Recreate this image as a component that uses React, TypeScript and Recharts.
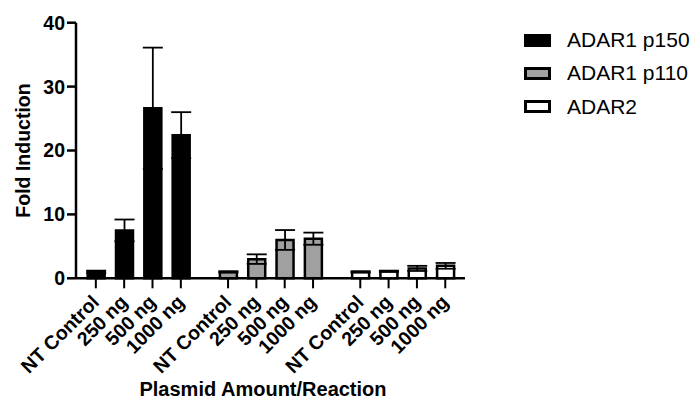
import { BarChart, Bar, XAxis, YAxis, ErrorBar, Cell, Label } from "recharts";

const groups = ["ADAR1 p150", "ADAR1 p110", "ADAR2"];
const groupColors = ["#000000", "#a0a0a0", "#ffffff"];
const amounts = ["NT Control", "250 ng", "500 ng", "1000 ng"];
const p150Values = [1.0, 7.5, 26.6, 22.4];
const p150Errors = [0.2, 1.7, 9.5, 3.6];
const p110Values = [1.0, 3.0, 6.0, 6.2];
const p110Errors = [0.1, 0.75, 1.55, 0.95];
const adar2Values = [1.0, 1.1, 1.55, 1.95];
const adar2Errors = [0.1, 0.1, 0.4, 0.45];
const yTicks = [0, 10, 20, 30, 40];

const FONT = '"Liberation Sans", Arial, sans-serif';
// spacing between groups, in bar slots
const GROUP_STEP = 14 / 3;

const values = [p150Values, p110Values, adar2Values];
const errors = [p150Errors, p110Errors, adar2Errors];

const data = groups.flatMap((g, gi) =>
  amounts.map((a, i) => ({
    pos: gi * GROUP_STEP + i,
    label: a,
    group: g,
    value: values[gi][i],
    err: errors[gi][i],
    color: groupColors[gi],
  }))
);

const AmountTick = (props: any) => {
  const { x, y, payload } = props;
  const row = data.find((d) => Math.abs(d.pos - payload.value) < 1e-6);
  const ax = x + 4.5;
  const ay = y + 13;
  return (
    <text
      x={ax}
      y={ay}
      transform={`rotate(-45, ${ax}, ${ay})`}
      textAnchor="end"
      fontFamily={FONT}
      fontWeight="bold"
      fontSize={19.5}
      fill="#000"
    >
      {row ? row.label : ""}
    </text>
  );
};

export default function App() {
  return (
    <div style={{ position: "absolute", left: 0, top: 0, width: 695, height: 406 }}>
      <BarChart
        width={695}
        height={406}
        data={data}
        margin={{ top: 22.7, right: 230, bottom: 0, left: 0 }}
      >
        <XAxis
          type="number"
          dataKey="pos"
          domain={[-0.7, 13.03]}
          ticks={data.map((d) => d.pos)}
          interval={0}
          height={127.7}
          tick={<AmountTick />}
          tickSize={10}
          axisLine={{ stroke: "#000", strokeWidth: 2.5 }}
          tickLine={{ stroke: "#000", strokeWidth: 2 }}
        >
          <Label
            content={() => (
              <text
                x={263}
                y={396}
                textAnchor="middle"
                fontFamily={FONT}
                fontWeight="bold"
                fontSize={20}
                fill="#000"
              >
                Plasmid Amount/Reaction
              </text>
            )}
          />
        </XAxis>
        <YAxis
          width={76}
          domain={[0, 40]}
          ticks={yTicks}
          interval={0}
          tickSize={9}
          tickMargin={2}
          axisLine={{ stroke: "#000", strokeWidth: 2.5 }}
          tickLine={{ stroke: "#000", strokeWidth: 2.5 }}
          tick={{ fill: "#000", fontFamily: FONT, fontWeight: "bold", fontSize: 19.5 }}
        >
          <Label
            content={() => (
              <text
                x={23}
                y={150.5}
                transform="rotate(-90, 23, 150.5)"
                textAnchor="middle"
                dominantBaseline="central"
                fontFamily={FONT}
                fontWeight="bold"
                fontSize={19.5}
                fill="#000"
              >
                Fold Induction
              </text>
            )}
          />
        </YAxis>
        <Bar
          dataKey="value"
          barSize={17}
          stroke="#000"
          strokeWidth={2.5}
          isAnimationActive={false}
        >
          {data.map((d, i) => (
            <Cell key={i} fill={d.color} />
          ))}
          <ErrorBar
            dataKey="err"
            direction="y"
            width={10}
            stroke="#000"
            strokeWidth={1.8}
            isAnimationActive={false}
          />
        </Bar>
      </BarChart>
      <div style={{ position: "absolute", left: 524, top: 23.5, fontFamily: FONT }}>
        {groups.map((g, i) => (
          <div
            key={g}
            style={{ display: "flex", alignItems: "center", height: 33.3 }}
          >
            <div
              style={{
                width: 21,
                height: 7,
                border: "3px solid #000",
                background: groupColors[i],
                marginRight: 16,
              }}
            />
            <span style={{ fontSize: 21, color: "#000" }}>{g}</span>
          </div>
        ))}
      </div>
    </div>
  );
}
